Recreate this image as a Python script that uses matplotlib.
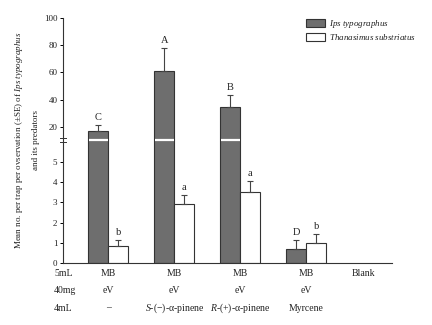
import numpy as np
import matplotlib
matplotlib.use("Agg")
import matplotlib.pyplot as plt
import matplotlib.transforms as mtransforms

plt.rcParams['font.family'] = ['Liberation Serif', 'DejaVu Serif']
plt.rcParams['mathtext.fontset'] = 'custom'
plt.rcParams['mathtext.rm'] = 'Liberation Serif'
plt.rcParams['mathtext.it'] = 'Liberation Serif:italic'

# =========================
# Data
# =========================
groups = [0, 1, 2, 3]
ips_mean = [17.1, 61.0, 34.9, 0.68]
ips_se = [4.4, 17.0, 8.6, 0.45]
ips_letters = ["C", "A", "B", "D"]
thn_mean = [0.84, 2.9, 3.5, 1.0]
thn_se = [0.31, 0.47, 0.56, 0.46]
thn_letters = ["b", "a", "a", "b"]

row_names = ["5mL", "40mg", "4mL"]
label_pos = [0, 1, 2, 3, 3.87]
row_5ml = ["MB", "MB", "MB", "MB", "Blank"]
row_40mg = ["eV", "eV", "eV", "eV", ""]
row_4ml = ["\u2013", "$\\it{S}$-(\u2212)-\u03b1-pinene", "$\\it{R}$-(+)-\u03b1-pinene", "Myrcene", ""]

yticks = [0, 1, 2, 3, 4, 5, 20, 40, 60, 80, 100]

# =========================
# Broken y scale (lower 0-6, upper 10-100)
# =========================
LO, HI = 6.09, 10.46
K_LO, K_HI = 20.2, 1.3625
BRK = LO * K_LO


def fwd(y):
    y = np.asarray(y, dtype=float)
    return np.where(y <= LO, y * K_LO,
                    np.where(y >= HI, BRK + (y - HI) * K_HI, BRK))


def inv(p):
    p = np.asarray(p, dtype=float)
    return np.where(p <= BRK, p / K_LO, HI + (p - BRK) / K_HI)


fig = plt.figure(figsize=(4.32, 3.25), dpi=100)
ax = fig.add_axes([0.1458, 0.1908, 0.7616, 0.7538])
ax.set_yscale('function', functions=(fwd, inv))

x = np.array(groups, dtype=float)
w = 0.30
dark = '#6e6e6e'
tc = '#222222'

ax.bar(x - w / 2, ips_mean, w, color=dark, edgecolor='#333333', lw=0.8,
       label="$\\it{Ips\\ typographus}$", zorder=2)
ax.bar(x + w / 2, thn_mean, w, color='white', edgecolor='#333333', lw=0.8,
       label="$\\it{Thanasimus\\ substriatus}$", zorder=2)

ekw = dict(fmt='none', ecolor='#444444', elinewidth=0.8, capsize=2.2, capthick=0.8, zorder=3)
ax.errorbar(x - w / 2, ips_mean, yerr=[np.zeros(len(x)), ips_se], **ekw)
ax.errorbar(x + w / 2, thn_mean, yerr=[np.zeros(len(x)), thn_se], **ekw)

for xi, m, s, t in zip(x - w / 2, ips_mean, ips_se, ips_letters):
    ax.annotate(t, (xi, m + s), xytext=(0, 2), textcoords='offset points',
                ha='center', va='bottom', fontsize=7.5, color=tc)
for xi, m, s, t in zip(x + w / 2, thn_mean, thn_se, thn_letters):
    ax.annotate(t, (xi, m + s), xytext=(0, 2), textcoords='offset points',
                ha='center', va='bottom', fontsize=7.5, color=tc)

# white break line across the tall bars
for xi, m in zip(x - w / 2, ips_mean):
    if m > HI:
        ax.hlines(LO, xi - w / 2 + 0.01, xi + w / 2 - 0.01, colors='white', lw=1.6, zorder=4)

ax.set_xlim(-0.686, 4.30)
ax.set_ylim(0, 100)
ax.set_yticks(yticks)
ax.set_yticklabels([str(t) for t in yticks], fontsize=6.5, color=tc)
ax.tick_params(axis='y', direction='out', length=2.5, width=0.7, pad=1.5)
ax.set_xticks([])
for s in ['top', 'right']:
    ax.spines[s].set_visible(False)
for s in ['left', 'bottom']:
    ax.spines[s].set_color('#333333')
    ax.spines[s].set_linewidth(0.8)

# axis break mark on the y spine
bt = mtransforms.blended_transform_factory(ax.transAxes, ax.transData)
for dy in (-1.6, 1.6):
    off = mtransforms.ScaledTranslation(0, dy / 72, fig.dpi_scale_trans)
    ax.plot([-0.009, 0.009], [LO, LO], color='#333333', lw=0.7,
            transform=bt + off, clip_on=False, zorder=5)

ax.set_ylabel("Mean no. per trap per ovservation (\u00b1SE) of $\\it{Ips\\ typographus}$\nand its predators",
              fontsize=6.5, color=tc, labelpad=3, linespacing=2.1)

# treatment table below the axis
xt = mtransforms.blended_transform_factory(ax.transData, ax.transAxes)
at = ax.transAxes
row_y = [-0.041, -0.114, -0.184]
for yy, name, row in zip(row_y, row_names, [row_5ml, row_40mg, row_4ml]):
    ax.text(-0.027, yy, name, transform=at, ha='left', va='center', fontsize=7, color=tc)
    for xp, lab in zip(label_pos, row):
        ax.text(xp, yy, lab, transform=xt, ha='center', va='center', fontsize=7, color=tc)

ax.legend(loc='upper left', bbox_to_anchor=(0.739, 1.0), frameon=False, fontsize=6.5,
          borderpad=0, borderaxespad=0, handlelength=2.1, handleheight=0.9,
          handletextpad=0.4, labelspacing=0.25, labelcolor=tc)

fig.savefig("out.png", dpi=100)
